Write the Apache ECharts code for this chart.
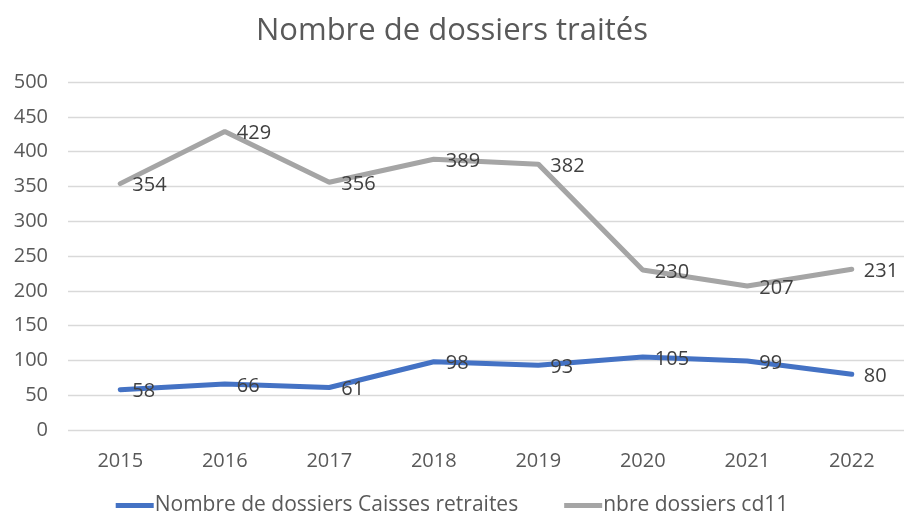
<!DOCTYPE html>
<html>
<head>
<meta charset="utf-8">
<script src="https://cdn.jsdelivr.net/npm/echarts@6/dist/echarts.min.js"></script>
<style>
  html, body { margin: 0; padding: 0; background: #fff; }
  #main { width: 904px; height: 519px; }
</style>
</head>
<body>
<div id="main"></div>
<script>
const years = ['2015', '2016', '2017', '2018', '2019', '2020', '2021', '2022']
const caisses = [58, 66, 61, 98, 93, 105, 99, 80]
const cd11 = [354, 429, 356, 389, 382, 230, 207, 231]
const yTicks = [0, 50, 100, 150, 200, 250, 300, 350, 400, 450, 500]

const font = 'Open Sans'
const chart = echarts.init(document.getElementById('main'))

const label = {
    show: true,
    position: 'right',
    distance: 12,
    offset: [0, 2],
    color: '#404040',
    fontSize: 20,
    fontFamily: font
}

chart.setOption({
    animation: false,
    title: {
        text: 'Nombre de dossiers traités',
        left: 'center',
        top: 11,
        textStyle: { color: '#595959', fontSize: 31, fontWeight: 'normal', fontFamily: font }
    },
    legend: {
        bottom: -2,
        left: 'center',
        itemWidth: 38,
        itemHeight: 5,
        itemGap: 46,
        icon: 'rect',
        textStyle: { color: '#595959', fontSize: 21, fontFamily: font, padding: [0, 0, 0, -4] },
        data: ['Nombre de dossiers Caisses retraites', 'nbre dossiers cd11']
    },
    grid: { left: 68, right: -1, top: 82, bottom: 89 },
    xAxis: {
        type: 'category',
        data: years,
        boundaryGap: true,
        axisLine: { show: false },
        axisTick: { show: false },
        axisLabel: { color: '#595959', fontSize: 20, fontFamily: font, margin: 21 }
    },
    yAxis: {
        type: 'value',
        min: yTicks[0],
        max: yTicks[yTicks.length - 1],
        interval: 50,
        axisLabel: { color: '#595959', fontSize: 20, fontFamily: font, margin: 20 },
        splitLine: { lineStyle: { color: '#d9d9d9', width: 1.3 } }
    },
    series: [
        {
            name: 'Nombre de dossiers Caisses retraites',
            type: 'line',
            data: caisses,
            symbol: 'circle',
            symbolSize: 0.1,
            showSymbol: true,
            color: '#4472C4',
            lineStyle: { width: 5, cap: 'round' },
            label: label
        },
        {
            name: 'nbre dossiers cd11',
            type: 'line',
            data: cd11,
            symbol: 'circle',
            symbolSize: 0.1,
            showSymbol: true,
            color: '#A5A5A5',
            lineStyle: { width: 5, cap: 'round' },
            label: label
        }
    ]
})
</script>
</body>
</html>
